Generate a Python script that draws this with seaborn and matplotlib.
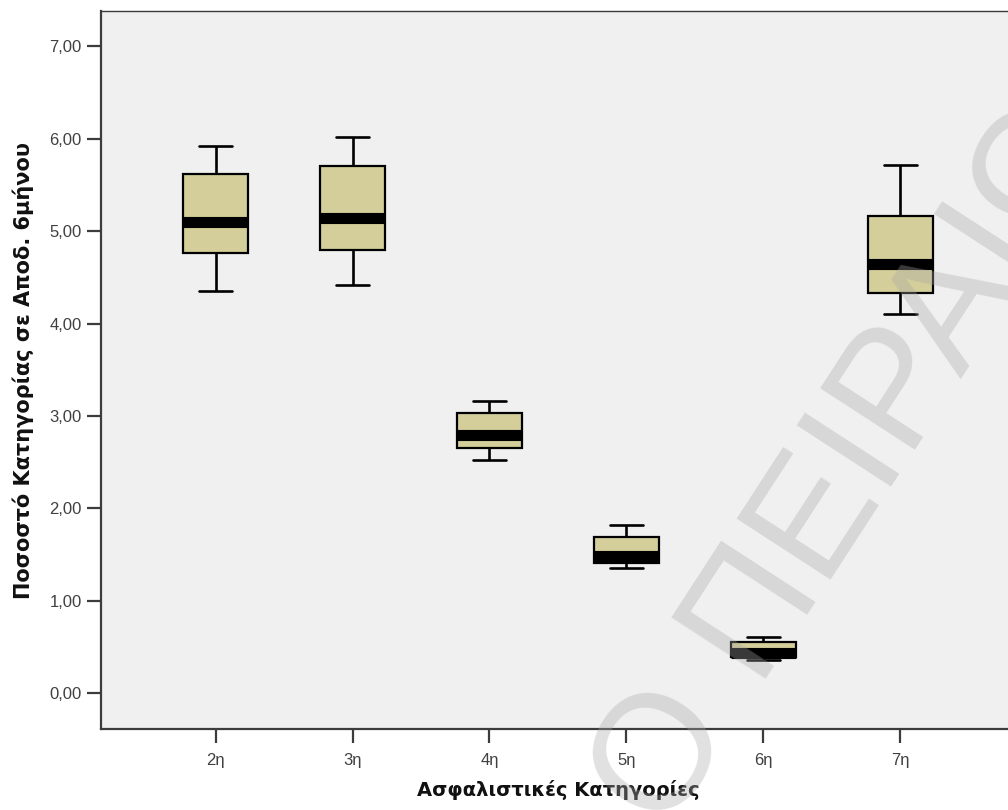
import pandas as pd
import matplotlib
matplotlib.use("Agg")
import matplotlib.pyplot as plt
import seaborn as sns
from matplotlib.ticker import FuncFormatter

# box statistics (min, Q1, median, Q3, max)
categories = ["2η", "3η", "4η", "5η", "6η", "7η"]
whisker_low = [4.35, 4.42, 2.52, 1.36, 0.36, 4.11]
q1 = [4.76, 4.80, 2.66, 1.41, 0.39, 4.33]
median = [5.10, 5.14, 2.80, 1.49, 0.44, 4.65]
q3 = [5.62, 5.71, 3.03, 1.69, 0.56, 5.17]
whisker_high = [5.92, 6.02, 3.16, 1.82, 0.61, 5.72]

y_ticks = [0, 1, 2, 3, 4, 5, 6, 7]

rows = []
for i, cat in enumerate(categories):
    for v in (whisker_low[i], q1[i], median[i], q3[i], whisker_high[i]):
        rows.append({"cat": cat, "val": v})
df = pd.DataFrame(rows)

sns.set_theme(style="ticks")
plt.rcParams["font.family"] = ["Liberation Sans", "DejaVu Sans"]

box_color = "#d4ce9a"
axis_color = "#3c3c3c"

fig = plt.figure(figsize=(10.08, 8.10), dpi=100)
ax = fig.add_axes([0.1002, 0.0996, 0.9067, 0.8868])
ax.set_facecolor("#f0f0f0")

sns.boxplot(data=df, x="cat", y="val", order=categories, ax=ax,
            width=0.47, whis=(0, 100), color=box_color, saturation=1,
            linecolor="black", fliersize=0,
            boxprops=dict(linewidth=1.6, edgecolor="black"),
            whiskerprops=dict(linewidth=1.9, color="black"),
            capprops=dict(linewidth=1.9, color="black"),
            medianprops=dict(linewidth=8, color="black", solid_capstyle="butt"))

ax.set_xlim(-0.836, 5.836)
ax.set_ylim(-0.39, 7.384)
ax.set_yticks(y_ticks)
ax.yaxis.set_major_formatter(FuncFormatter(lambda v, p: f"{v:.2f}".replace(".", ",")))

for side in ["left", "bottom"]:
    ax.spines[side].set_color(axis_color)
    ax.spines[side].set_linewidth(1.6)
ax.spines["top"].set_color(axis_color)
ax.spines["top"].set_linewidth(1.0)
ax.spines["right"].set_visible(False)

ax.tick_params(axis="y", length=10, width=1.6, color=axis_color, pad=4,
               labelsize=12, labelcolor="#404040")
ax.tick_params(axis="x", length=10, width=1.6, color=axis_color, pad=7,
               labelsize=12, labelcolor="#404040")

ax.set_xlabel("Ασφαλιστικές Κατηγορίες", fontsize=14, fontweight="bold",
              color="#111111", labelpad=9, family="DejaVu Sans")
ax.set_ylabel("Ποσοστό Κατηγορίας σε Αποδ. 6μήνου", fontsize=15,
              fontweight="bold", color="#111111", labelpad=11, family="DejaVu Sans")

# faint watermark running across the lower right
fig.text(630 / 1008, 1 - 812 / 810, "Ο ΠΕΙΡΑΙΩΣ", fontsize=118,
         color="#a8a8a8", alpha=0.35, rotation=57, rotation_mode="anchor",
         ha="left", va="center", zorder=10)

plt.savefig("out.png", dpi=100)
plt.close()
